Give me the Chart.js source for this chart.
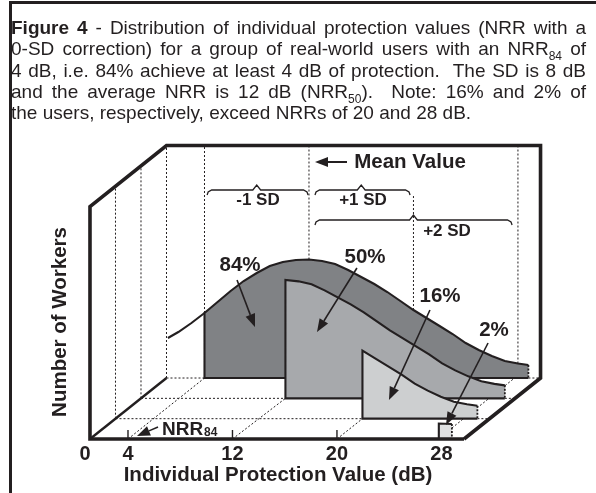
<!DOCTYPE html>
<html>
<head>
<meta charset="utf-8">
<title>Figure 4</title>
<script src="https://cdn.jsdelivr.net/npm/chart.js@4"></script>
<style>
  html, body { margin: 0; padding: 0; background: #fff; }
  #page { position: relative; width: 596px; height: 493px; overflow: hidden; }
  #page canvas { position: absolute; left: 0; top: 0; }
  #edge { position: absolute; left: 9px; top: 1px; width: 600px; height: 500px; border-left: 3px solid #231f20; border-top: 3px solid #231f20; }
  #caption { position: absolute; left: 11px; top: 17px; width: 575px; font: 19px/21.3px "Liberation Sans", Arial, sans-serif; color: #231f20; }
  #caption div { text-align: justify; text-align-last: justify; white-space: nowrap; }
  #caption div:last-child { text-align-last: left; }
  #caption sub { font-size: 12px; line-height: 0; }
</style>
</head>
<body>
<div id="page">
  <canvas id="fig" width="596" height="493"></canvas>
  <div id="edge"></div>
  <div id="caption">
    <div><b>Figure 4</b> - Distribution of individual protection values (NRR with a</div>
    <div>0-SD correction) for a group of real-world users with an NRR<sub>84</sub> of</div>
    <div>4 dB, i.e. 84% achieve at least 4 dB of protection.&nbsp; The SD is 8 dB</div>
    <div>and the average NRR is 12 dB (NRR<sub>50</sub>).&nbsp; Note: 16% and 2% of</div>
    <div>the users, respectively, exceed NRRs of 20 and 28 dB.</div>
  </div>
</div>
<script>
(function(){
  // values
  const protectionDb = [1.2, 2, 3, 4, 5, 6, 7, 8, 9, 10, 11, 12, 13, 14, 15, 16, 17, 18, 19, 20, 21, 22, 23, 24, 25, 26, 27, 28, 28.8];
  const workers      = [40, 46, 55, 65, 76, 87, 97, 105, 112, 116, 118, 118.5, 117, 114, 108, 101, 94, 86, 77, 68, 60, 52, 44, 35, 28, 22, 17, 14.5, 13];
  const tickDb       = [4, 12, 20, 28];
  const layerStart   = [4, 12, 20];
  const layerDepth   = [3, 2, 1];
  const layerNudge   = [0, 0.15, 0];
  const layerColor   = ['#808285', '#a7a9ac', '#cdcfd0'];
  const blockDb      = [27.8, 28.8];
  const blockWorkers = [15.5, 15];
  const blockColor   = '#dfe0e1';

  const ink = '#231f20';
  const xMin = 0.708, xMax = 35.7;      // axis range in dB
  const wallLeft = 1.09, wallRight = 29.73, wallTop = 232.5;
  const depthDb = 1.9525, depthH = 20.33;
  const pxPerDb = 13.06;

  // a point on the floor grid, pushed back by depth rows
  const at = (db, h, depth) => ({ x: db + (depth || 0) * depthDb, y: h + (depth || 0) * depthH });

  const sets = [];
  const line = (data, o) => sets.push(Object.assign({ data, borderColor: ink, borderWidth: 1, fill: false, clip: false, pointRadius: 0, tension: 0 }, o));
  const dotted = (data) => line(data, { borderDash: [2, 2], borderWidth: 1 });

  // dotted guides on the left wall and the floor
  [1, 2, 3].forEach(d => dotted([at(wallLeft, 0, d), at(wallLeft, wallTop, d)]));
  const endDb = protectionDb[protectionDb.length - 1];
  const heightAt = db => workers[protectionDb.indexOf(db)];
  layerDepth.forEach((d, i) => {
    const n = layerNudge[i];
    dotted([at(wallLeft, 0, d), at(layerStart[i] + n, 0, d)]);
    dotted([at(endDb + n, 0, d), at(wallRight, 0, d)]);
    dotted([at(layerStart[i], 0, 0), at(layerStart[i] + n, 0, d)]);
  });
  dotted([at(endDb, 11, 0), at(endDb, 11, 3)]);

  // dotted guides on the back wall
  dotted([at(4, heightAt(4), 3), at(4, wallTop, 3)]);
  dotted([at(12, heightAt(12), 3), at(12, wallTop, 3)]);
  dotted([at(20, heightAt(20), 3), at(20, 183, 3)]);
  dotted([at(28, heightAt(28), 3), at(28, wallTop, 3)]);

  const slab = (curve, foot, heel, color) => {
    const last = curve[curve.length - 1];
    line([heel].concat(curve, [foot, heel]), { fill: 'shape', backgroundColor: color, borderWidth: 0, borderColor: 'transparent' });
    line([foot, heel].concat(curve), { borderWidth: 2.1 });
    line([last, foot], { borderDash: [2, 1.5], borderWidth: 1.8 });
  };

  // the same curve sits on each row, cut at its own starting dB
  layerStart.forEach((start, i) => {
    const d = layerDepth[i], n = layerNudge[i];
    const curve = [];
    protectionDb.forEach((db, k) => { if (db >= start) curve.push(at(db + n, workers[k], d)); });
    slab(curve, at(endDb + n, 0, d), at(start + n, 0, d), layerColor[i]);
  });
  // the small 2% block on the front row
  slab(blockDb.map((db, k) => at(db, blockWorkers[k], 0)), at(blockDb[1], 0, 0), at(blockDb[0], 0, 0), blockColor);

  // the thin lead-in of the back curve
  const tail = [];
  protectionDb.forEach((db, k) => { if (db <= 4) tail.push(at(db, workers[k], 3)); });
  line(tail, { borderWidth: 2.1 });

  // frame
  line([at(wallRight, 0, 0), at(wallLeft, 0, 0), at(wallLeft, wallTop, 0), at(wallLeft, wallTop, 3), at(wallRight, wallTop, 3), at(wallRight, 0, 3), at(wallRight, 0, 0)], { borderWidth: 3.6 });
  line([at(wallLeft, 0, 0), at(wallLeft, 0, 3)], { borderWidth: 2.4 });
  tickDb.slice(0, 3).forEach(db => line([at(db, 0, 0), at(db, 9, 0)], { borderWidth: 1.4 }));

  // braces
  const brace = (a, c, b, h) => line([
    at(a, h - 5, 3), at(a + 0.08, h - 2, 3), at(a + 0.35, h, 3), at(c - 0.3, h, 3), at(c, h + 5, 3),
    at(c + 0.3, h, 3), at(b - 0.35, h, 3), at(b - 0.08, h - 2, 3), at(b, h - 5, 3)
  ], { borderWidth: 1.3 });
  brace(4.2, 8, 11.93, 188);
  brace(12.46, 16, 19.74, 188);
  brace(12.46, 20, 27.55, 158);

  // arrows, tail then tip
  const arrow = (fromDb, fromH, toDb, toH, width) => {
    const dx = (toDb - fromDb) * pxPerDb, dy = toH - fromH;
    const len = Math.hypot(dx, dy), ux = dx / len, uy = dy / len;
    const neck = 13, half = 5;
    const back = { x: toDb - ux * neck / pxPerDb, y: toH - uy * neck };
    line([{ x: fromDb, y: fromH }, back], { borderWidth: width });
    line([
      { x: toDb, y: toH },
      { x: back.x - uy * half / pxPerDb, y: back.y + ux * half },
      { x: back.x + uy * half / pxPerDb, y: back.y - ux * half },
      { x: toDb, y: toH }
    ], { fill: 'shape', backgroundColor: ink, borderWidth: 0 });
  };
  arrow(12.35, 159, 13.72, 112, 1.6);
  arrow(21.53, 171, 18.47, 107, 1.6);
  arrow(27.12, 129, 23.98, 39, 1.6);
  arrow(31.57, 96, 28.35, 14, 1.6);
  arrow(20.77, 277, 18.32, 277, 2);
  arrow(6.30, 12, 4.69, 3, 1.6);

  sets.forEach((s, i) => { s.order = sets.length - i; });

  const bold = size => 'bold ' + size + 'px "Liberation Sans", Arial, sans-serif';
  const notes = [
    ['Mean Value', 410, 162, 20.5],
    ['-1 SD', 258, 200, 17],
    ['+1 SD', 363, 200, 17],
    ['+2 SD', 447, 231, 17],
    ['84%', 240, 265, 20.5],
    ['50%', 365, 257, 20.5],
    ['16%', 440, 296, 20.5],
    ['2%', 494, 330, 20.5],
    ['Individual Protection Value (dB)', 278, 475, 20.5]
  ];
  const figureText = {
    id: 'figureText',
    afterDatasetsDraw(chart) {
      const ctx = chart.ctx;
      ctx.save();
      ctx.fillStyle = ink;
      ctx.textAlign = 'center';
      ctx.textBaseline = 'middle';
      notes.forEach(n => { ctx.font = bold(n[3]); ctx.fillText(n[0], n[1], n[2]); });
      ctx.textAlign = 'left';
      ctx.textBaseline = 'alphabetic';
      ctx.font = bold(19);
      ctx.fillText('NRR', 162, 435);
      ctx.font = bold(12);
      ctx.fillText('84', 204, 436);
      ctx.translate(60, 322);
      ctx.rotate(-Math.PI / 2);
      ctx.textAlign = 'center';
      ctx.textBaseline = 'middle';
      ctx.font = bold(20.5);
      ctx.fillText('Number of Workers', 0, 0);
      ctx.restore();
    }
  };

  new Chart(document.getElementById('fig'), {
    type: 'line',
    data: { datasets: sets },
    plugins: [figureText],
    options: {
      responsive: false,
      animation: false,
      parsing: false,
      normalized: false,
      layout: { padding: { left: 85, right: 54, top: 146, bottom: 0 } },
      plugins: { legend: { display: false }, tooltip: { enabled: false }, title: { display: false } },
      scales: {
        x: {
          type: 'linear',
          min: xMin,
          max: xMax,
          grid: { display: false, drawTicks: false },
          border: { display: false },
          afterBuildTicks: scale => { scale.ticks = [xMin].concat(tickDb).map(v => ({ value: v })); },
          afterFit: scale => { scale.height = 54; },
          ticks: {
            autoSkip: false,
            maxRotation: 0,
            padding: 3,
            color: ink,
            font: { family: '"Liberation Sans", Arial, sans-serif', weight: 'bold', size: 20 },
            callback: v => (v === xMin ? '0' : v)
          }
        },
        y: { type: 'linear', display: false, min: 0, max: 293 }
      }
    }
  });
})();
</script>
</body>
</html>
